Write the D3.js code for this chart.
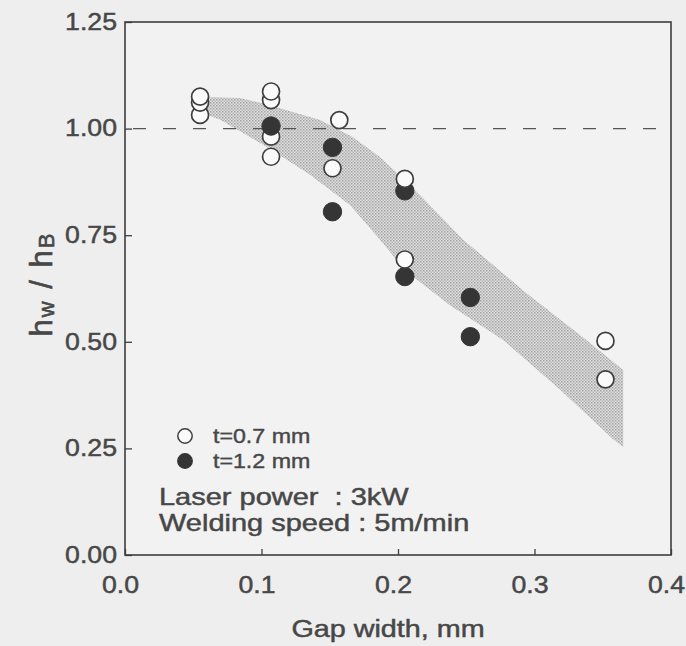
<!DOCTYPE html>
<html>
<head>
<meta charset="utf-8">
<script src="https://cdn.jsdelivr.net/npm/d3@7"></script>
<style>
  body { margin: 0; background: #efefef; }
  svg { display: block; }
</style>
</head>
<body>
<div id="chart"></div>
<script>
// open circles, t=0.7 mm
var gap07 = [0.055, 0.055, 0.055, 0.107, 0.107, 0.107, 0.107, 0.157, 0.152, 0.205, 0.205, 0.352, 0.352];
var ratio07 = [1.075, 1.061, 1.032, 1.087, 1.067, 0.981, 0.934, 1.020, 0.907, 0.882, 0.693, 0.502, 0.412];
// filled circles, t=1.2 mm
var gap12 = [0.107, 0.152, 0.152, 0.205, 0.205, 0.253, 0.253];
var ratio12 = [1.006, 0.956, 0.805, 0.854, 0.653, 0.604, 0.512];

// shaded band outline (upper edge left->right, then lower edge right->left)
var bandGap = [0.0586, 0.084, 0.106, 0.143, 0.167, 0.187, 0.216, 0.248, 0.293, 0.338, 0.365,
               0.365, 0.358, 0.319, 0.277, 0.238, 0.205, 0.187, 0.165, 0.135, 0.104, 0.070, 0.0586];
var bandRatio = [1.074, 1.072, 1.055, 1.020, 0.980, 0.933, 0.844, 0.739, 0.617, 0.504, 0.434,
                 0.253, 0.270, 0.387, 0.504, 0.586, 0.668, 0.739, 0.820, 0.893, 0.957, 1.020, 1.034];

var xTicks = [0.0, 0.1, 0.2, 0.3, 0.4];
var yTicks = [0.00, 0.25, 0.50, 0.75, 1.00, 1.25];
var legendLabels = ["t=0.7 mm", "t=1.2 mm"];
var noteLines = ["Laser power  : 3kW", "Welding speed : 5m/min"];

var width = 686, height = 646;
var ink = "#3e3e3e", textCol = "#474747";
var font = "'Liberation Sans', Arial, Helvetica, sans-serif";
var sx = 1.16; // scanned lettering is a bit wide

var svg = d3.select("#chart").append("svg")
    .attr("width", width)
    .attr("height", height);

svg.append("rect").attr("width", width).attr("height", height).attr("fill", "#eeeeee");

var x = d3.scaleLinear().domain([0, 0.4]).range([125, 671]);
var y = d3.scaleLinear().domain([0, 1.25]).range([555, 22]);

// stipple pattern for the band
var defs = svg.append("defs");
var pat = defs.append("pattern")
    .attr("id", "stip")
    .attr("width", 3).attr("height", 3)
    .attr("patternUnits", "userSpaceOnUse");
pat.append("rect").attr("width", 3).attr("height", 3).attr("fill", "#e0e0e0");
pat.append("rect").attr("x", 0).attr("y", 0).attr("width", 1.5).attr("height", 1.5).attr("fill", "#a2a2a2");
pat.append("rect").attr("x", 1.5).attr("y", 1.5).attr("width", 1.5).attr("height", 1.5).attr("fill", "#b6b6b6");

svg.append("rect")
    .attr("x", x(0)).attr("y", y(1.25))
    .attr("width", x(0.4) - x(0)).attr("height", y(0) - y(1.25))
    .attr("fill", "#f2f2f2");

var band = d3.range(bandGap.length).map(function(i){ return [bandGap[i], bandRatio[i]]; });
svg.append("path")
    .datum(band)
    .attr("d", d3.line().x(function(d){ return x(d[0]); }).y(function(d){ return y(d[1]); }).curve(d3.curveLinearClosed))
    .attr("fill", "url(#stip)")
    .attr("stroke", "none");

// reference line at 1.0
svg.append("line")
    .attr("x1", x(0) + 8).attr("x2", x(0.4))
    .attr("y1", y(1)).attr("y2", y(1))
    .attr("stroke", "#555")
    .attr("stroke-width", 1.3)
    .attr("stroke-dasharray", "13,17");

// axes
var xAxis = d3.axisBottom(x).tickValues(xTicks).tickFormat(d3.format(".1f"))
    .tickSizeInner(-6).tickSizeOuter(0).tickPadding(22);
var yAxis = d3.axisLeft(y).tickValues(yTicks).tickFormat(d3.format(".2f"))
    .tickSizeInner(-7).tickSizeOuter(0).tickPadding(8);

var gx = svg.append("g").attr("transform", "translate(0," + y(0) + ")").call(xAxis);
var gy = svg.append("g").attr("transform", "translate(" + x(0) + ",0)").call(yAxis);

[gx, gy].forEach(function(g){
    g.select(".domain").remove();
    g.selectAll(".tick line").attr("stroke", ink).attr("stroke-width", 1.3);
    g.selectAll(".tick text")
        .attr("fill", textCol)
        .attr("stroke", textCol)
        .attr("stroke-width", 0.45)
        .style("font-family", font)
        .style("font-size", "23px");
});
gx.selectAll(".tick text").attr("x", -5 / sx).attr("transform", "scale(" + sx + ",1)");
gy.selectAll(".tick text").attr("x", -8 / sx).attr("transform", "scale(" + sx + ",1)");

// frame
svg.append("rect")
    .attr("x", x(0)).attr("y", y(1.25))
    .attr("width", x(0.4) - x(0)).attr("height", y(0) - y(1.25))
    .attr("fill", "none")
    .attr("stroke", ink)
    .attr("stroke-width", 1.6);

// points, lower values first so higher ones sit on top
var pts = gap07.map(function(g, i){ return {gap: g, r: ratio07[i], filled: false}; })
    .concat(gap12.map(function(g, i){ return {gap: g, r: ratio12[i], filled: true}; }));
pts.sort(function(a, b){ return a.r - b.r; });

svg.selectAll("circle.pt")
    .data(pts).enter()
    .append("circle")
    .attr("class", "pt")
    .attr("cx", function(d){ return x(d.gap); })
    .attr("cy", function(d){ return y(d.r); })
    .attr("r", function(d){ return d.filled ? 9.2 : 8.5; })
    .attr("fill", function(d){ return d.filled ? "#353535" : "#fafafa"; })
    .attr("stroke", function(d){ return d.filled ? "#353535" : ink; })
    .attr("stroke-width", function(d){ return d.filled ? 1 : 1.7; });

// legend
var leg = svg.append("g");
legendLabels.forEach(function(lab, i){
    var cy = 436 + i * 25;
    leg.append("circle")
        .attr("cx", 185).attr("cy", cy).attr("r", 7.2)
        .attr("fill", i == 0 ? "#fafafa" : "#353535")
        .attr("stroke", i == 0 ? ink : "#353535")
        .attr("stroke-width", 1.5);
    leg.append("text")
        .attr("transform", "translate(213," + (cy + 7) + ") scale(" + sx + ",1)")
        .attr("fill", textCol)
        .attr("stroke", textCol)
        .attr("stroke-width", 0.4)
        .style("font-family", font)
        .style("font-size", "20px")
        .text(lab);
});

noteLines.forEach(function(t, i){
    svg.append("text")
        .attr("transform", "translate(159," + (505 + i * 26) + ") scale(1.26,1)")
        .attr("fill", textCol)
        .attr("stroke", textCol)
        .attr("stroke-width", 0.45)
        .attr("xml:space", "preserve")
        .style("white-space", "pre")
        .style("font-family", font)
        .style("font-size", "23px")
        .text(t);
});

// axis titles
svg.append("text")
    .attr("transform", "translate(388,637) scale(1.25,1)")
    .attr("text-anchor", "middle")
    .attr("fill", textCol)
    .attr("stroke", textCol)
    .attr("stroke-width", 0.45)
    .style("font-family", font)
    .style("font-size", "23px")
    .text("Gap width, mm");

var yl = svg.append("text")
    .attr("transform", "translate(52,284) rotate(-90)")
    .attr("text-anchor", "middle")
    .attr("fill", textCol)
    .attr("stroke", textCol)
    .attr("stroke-width", 0.6)
    .style("font-family", font)
    .style("font-size", "31px")
    .style("letter-spacing", "2px");
yl.append("tspan").text("h");
yl.append("tspan").attr("dy", 2).style("font-size", "22px").text("w");
yl.append("tspan").attr("dy", -2).text(" / h");
yl.append("tspan").attr("dy", 2).style("font-size", "22px").text("B");
</script>
</body>
</html>
